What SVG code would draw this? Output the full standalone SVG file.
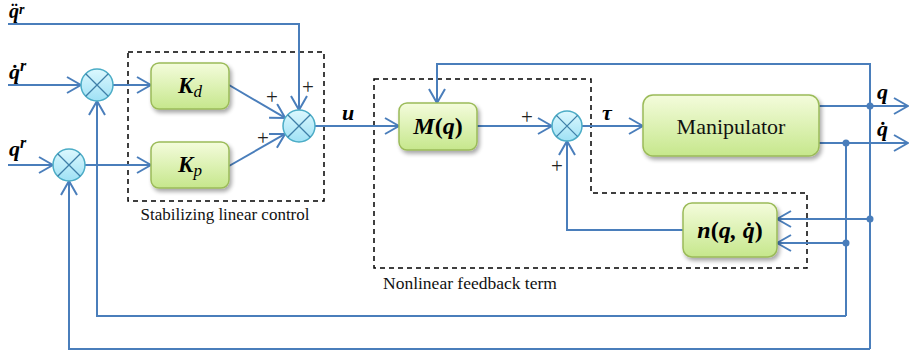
<svg xmlns="http://www.w3.org/2000/svg" width="912" height="356" viewBox="0 0 912 356">
  <defs>
    <linearGradient id="boxFill" x1="0" y1="0" x2="0" y2="1">
      <stop offset="0" stop-color="#f4fcdc"/>
      <stop offset="1" stop-color="#c6e78c"/>
    </linearGradient>
    <linearGradient id="sumFill" x1="0" y1="0" x2="0" y2="1">
      <stop offset="0" stop-color="#dcf8fe"/>
      <stop offset="1" stop-color="#9fe1f5"/>
    </linearGradient>
    <filter id="shadow" x="-20%" y="-20%" width="150%" height="160%">
      <feGaussianBlur in="SourceAlpha" stdDeviation="2"/>
      <feOffset dx="2" dy="3" result="b"/>
      <feComponentTransfer><feFuncA type="linear" slope="0.35"/></feComponentTransfer>
      <feMerge><feMergeNode/><feMergeNode in="SourceGraphic"/></feMerge>
    </filter>
    <marker id="arrow" markerUnits="userSpaceOnUse" viewBox="0 0 16 18" refX="15" refY="9" markerWidth="16" markerHeight="18" orient="auto">
      <path d="M1,1 L15,9 L1,17" fill="none" stroke="#4a7ebb" stroke-width="2"/>
    </marker>
  </defs>
  <style>
    .box { fill: url(#boxFill); stroke: #9bbb59; stroke-width: 1.5; filter: url(#shadow); }
    .sum circle { fill: url(#sumFill); stroke: #4bacc6; stroke-width: 1.5; }
    .sum path { stroke: #3f7fa8; stroke-width: 1.3; fill: none; }
    .wire { fill: none; stroke: #4a7ebb; stroke-width: 2; }
    .arr { marker-end: url(#arrow); }
    .dot { fill: #4a7ebb; }
    .dash { fill: none; stroke: #000; stroke-width: 1.5; stroke-dasharray: 5 4; }
    .math { font-family: "Liberation Serif", "DejaVu Serif", serif; font-weight: bold; font-style: italic; fill: #000; }
    .txt { font-family: "Liberation Serif", "DejaVu Serif", serif; fill: #111; }
    .plus { font-family: "Liberation Serif", serif; font-size: 21px; fill: #222; text-anchor: middle; }
  </style>

  <!-- dashed grouping frames -->
  <g id="frames">
    <rect class="dash" x="128" y="52" width="196" height="149"/>
    <path class="dash" d="M374,79 H591 V193 H807 V268 H374 Z"/>
    <text class="txt" x="225" y="220" font-size="17" text-anchor="middle">Stabilizing linear control</text>
    <text class="txt" x="383" y="289" font-size="17.5">Nonlinear feedback term</text>
  </g>

  <!-- connectors -->
  <g id="connectors">
    <path class="wire arr" d="M8,24 H299 V110"/>
    <path class="wire arr" d="M8,85 H81"/>
    <path class="wire arr" d="M8,165 H53"/>
    <path class="wire arr" d="M113,85 H151"/>
    <path class="wire arr" d="M85,165 H151"/>
    <path class="wire arr" d="M229,85 L285.2,117.9"/>
    <path class="wire arr" d="M229,166 L285.1,133.9"/>
    <path class="wire arr" d="M315,126 H399"/>
    <path class="wire arr" d="M477,126 H552"/>
    <path class="wire arr" d="M582,126 H643"/>
    <path class="wire arr" d="M683,230 H567 V141"/>
    <path class="wire arr" d="M819,106 H908"/>
    <path class="wire arr" d="M819,143 H908" stroke-width="3"/>
    <path class="wire arr" d="M870,106 V64 H437 V103"/>
    <path class="wire" d="M870,106 V349"/>
    <path class="wire" d="M846,143 V316"/>
    <path class="wire arr" d="M870,219 H777"/>
    <path class="wire arr" d="M846,243 H777"/>
    <path class="wire arr" d="M846,316 H97 V101"/>
    <path class="wire arr" d="M870,349 H69 V181"/>
    <circle class="dot" cx="870" cy="106" r="3.5"/>
    <circle class="dot" cx="846" cy="143" r="3.5"/>
    <circle class="dot" cx="870" cy="219" r="3.5"/>
    <circle class="dot" cx="846" cy="243" r="3.5"/>
    <text class="plus" x="272" y="104">+</text>
    <text class="plus" x="263" y="145">+</text>
    <text class="plus" x="308" y="94">+</text>
    <text class="plus" x="527" y="124">+</text>
    <text class="plus" x="557" y="173">+</text>
    <text class="math" x="9" y="18" font-size="20">q&#776;<tspan dy="-4" font-size="14">r</tspan></text>
    <text class="math" x="9" y="79" font-size="22">q&#775;<tspan dy="-8" font-size="16">r</tspan></text>
    <text class="math" x="9" y="156" font-size="22">q<tspan dy="-8" font-size="16">r</tspan></text>
    <text class="math" x="342" y="120" font-size="22">u</text>
    <text class="math" x="602" y="120" font-size="22">τ</text>
    <text class="math" x="877" y="99" font-size="22">q</text>
    <text class="math" x="877" y="136" font-size="22">q&#775;</text>
  </g>

  <!-- summing junctions -->
  <g id="sum1" class="sum">
    <circle cx="97" cy="85" r="16"/>
    <path d="M85.7,73.7 L108.3,96.3 M108.3,73.7 L85.7,96.3"/>
  </g>
  <g id="sum2" class="sum">
    <circle cx="69" cy="165" r="16"/>
    <path d="M57.7,153.7 L80.3,176.3 M80.3,153.7 L57.7,176.3"/>
  </g>
  <g id="sum3" class="sum">
    <circle cx="299" cy="126" r="16"/>
    <path d="M287.7,114.7 L310.3,137.3 M310.3,114.7 L287.7,137.3"/>
  </g>
  <g id="sum4" class="sum">
    <circle cx="567" cy="126" r="15"/>
    <path d="M556.4,115.4 L577.6,136.6 M577.6,115.4 L556.4,136.6"/>
  </g>

  <!-- blocks -->
  <g id="Kd">
    <rect class="box" x="151" y="63" width="78" height="46" rx="8"/>
    <text class="math" x="190" y="93" font-size="23" text-anchor="middle">K<tspan font-weight="normal" font-size="17" dy="4">d</tspan></text>
  </g>
  <g id="Kp">
    <rect class="box" x="151" y="142" width="78" height="46" rx="8"/>
    <text class="math" x="190" y="172" font-size="23" text-anchor="middle">K<tspan font-weight="normal" font-size="17" dy="4">p</tspan></text>
  </g>
  <g id="Mq">
    <rect class="box" x="399" y="103" width="78" height="47" rx="8"/>
    <text class="math" x="438" y="134" font-size="24" text-anchor="middle">M<tspan font-style="normal">(</tspan>q<tspan font-style="normal">)</tspan></text>
  </g>
  <g id="manipulator">
    <rect class="box" x="643" y="95" width="176" height="61" rx="10"/>
    <text class="txt" x="731" y="134" font-size="22" text-anchor="middle">Manipulator</text>
  </g>
  <g id="nq">
    <rect class="box" x="683" y="203" width="94" height="54" rx="9"/>
    <text class="math" x="730" y="238" font-size="24" text-anchor="middle">n<tspan font-style="normal">(</tspan>q, q&#775;<tspan font-style="normal">)</tspan></text>
  </g>
</svg>
